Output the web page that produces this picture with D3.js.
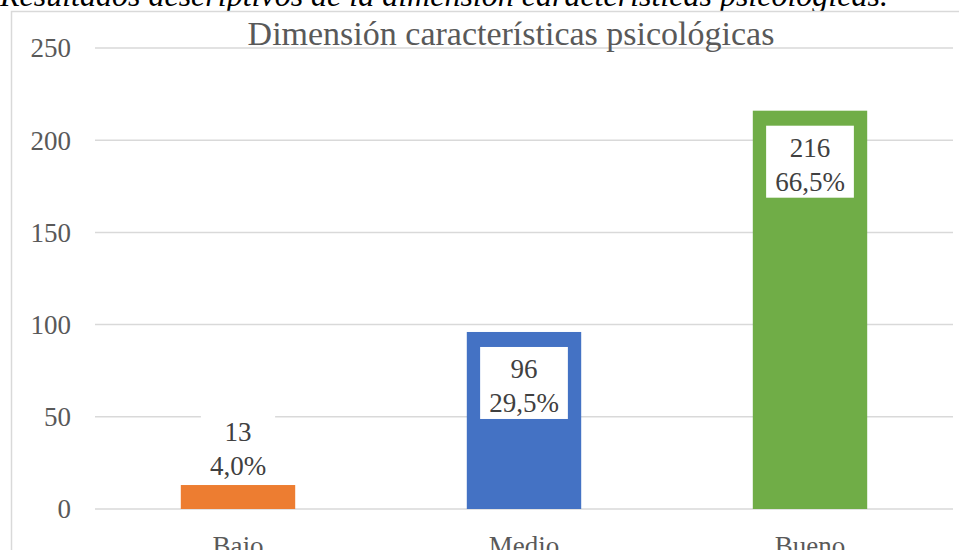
<!DOCTYPE html>
<html>
<head>
<meta charset="utf-8">
<script src="https://cdn.jsdelivr.net/npm/d3@7"></script>
<style>
  body { margin: 0; background: #fff; }
  svg { display: block; }
  text { font-family: "Liberation Serif", "Times New Roman", serif; }
</style>
</head>
<body>
<svg width="959" height="550"></svg>
<script>
const categories = ["Bajo", "Medio", "Bueno"];
const counts = [13, 96, 216];
const percents = ["4,0%", "29,5%", "66,5%"];
const colors = ["#ED7D31", "#4472C4", "#70AD47"];
const yTicks = [0, 50, 100, 150, 200, 250];

const svg = d3.select("svg");
const margin = { left: 95, right: 6, top: 48, bottom: 41 };
const width = 959, height = 550;

// caption above the chart box (cut off by the page)
svg.append("text")
  .attr("x", 0)
  .attr("y", 6)
  .attr("font-size", 32)
  .attr("font-style", "italic")
  .attr("fill", "#000")
  .text("Resultados descriptivos de la dimensión características psicológicas.");

// chart border
svg.append("rect")
  .attr("x", 11.5).attr("y", 11.5)
  .attr("width", 960).attr("height", 560)
  .attr("fill", "#fff")
  .attr("stroke", "#d9d9d9")
  .attr("stroke-width", 1.5);

const x = d3.scaleBand()
  .domain(categories)
  .range([margin.left, width - margin.right])
  .paddingInner(0.6)
  .paddingOuter(0.3);

const y = d3.scaleLinear()
  .domain([0, 250])
  .range([height - margin.bottom, margin.top]);

// gridlines
svg.append("g")
  .selectAll("line")
  .data(yTicks)
  .enter()
  .append("line")
  .attr("x1", margin.left)
  .attr("x2", width - margin.right)
  .attr("y1", (d) => y(d))
  .attr("y2", (d) => y(d))
  .attr("stroke", "#d9d9d9")
  .attr("stroke-width", 1.5);

// y tick labels
svg.append("g")
  .selectAll("text")
  .data(yTicks)
  .enter()
  .append("text")
  .attr("x", 71)
  .attr("y", (d) => y(d))
  .attr("dy", "0.35em")
  .attr("text-anchor", "end")
  .attr("font-size", 27)
  .attr("fill", "#595959")
  .text((d) => d);

// bars
svg.append("g")
  .selectAll("rect")
  .data(counts)
  .enter()
  .append("rect")
  .attr("x", (d, i) => x(categories[i]))
  .attr("y", (d) => y(d))
  .attr("width", x.bandwidth())
  .attr("height", (d) => y(0) - y(d))
  .attr("fill", (d, i) => colors[i]);

// category labels
svg.append("g")
  .selectAll("text")
  .data(categories)
  .enter()
  .append("text")
  .attr("x", (d) => x(d) + x.bandwidth() / 2)
  .attr("y", 555)
  .attr("text-anchor", "middle")
  .attr("font-size", 27)
  .attr("fill", "#595959")
  .text((d) => d);

// data labels with white boxes
const boxH = 72;
counts.forEach((v, i) => {
  const cx = x(categories[i]) + x.bandwidth() / 2;
  const barTop = y(v);
  const inside = y(0) - barTop > boxH + 30;
  const top = inside ? barTop + 15 : barTop - boxH - 3;
  const g = svg.append("g");
  const rect = g.append("rect").attr("fill", "#fff");
  const t1 = g.append("text")
    .attr("x", cx).attr("y", top + 22).attr("dy", "0.35em")
    .attr("text-anchor", "middle").attr("font-size", 27).attr("fill", "#404040")
    .text(v);
  const t2 = g.append("text")
    .attr("x", cx).attr("y", top + 56).attr("dy", "0.35em")
    .attr("text-anchor", "middle").attr("font-size", 27).attr("fill", "#404040")
    .text(percents[i]);
  const w = Math.max(t1.node().getBBox().width, t2.node().getBBox().width) + 18;
  rect.attr("x", cx - w / 2).attr("y", top).attr("width", w).attr("height", boxH);
});

// chart title
svg.append("text")
  .attr("x", 511)
  .attr("y", 45)
  .attr("text-anchor", "middle")
  .attr("font-size", 34)
  .attr("fill", "#595959")
  .text("Dimensión características psicológicas");
</script>
</body>
</html>
